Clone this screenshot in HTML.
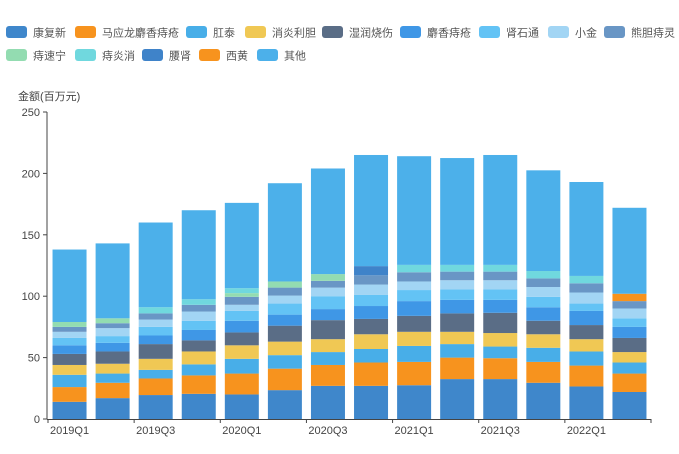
<!DOCTYPE html><html><head><meta charset="utf-8"><style>
body{margin:0;background:#fff;font-family:"Liberation Sans","Noto Sans CJK SC",sans-serif;}
svg text{font-family:"Liberation Sans","Noto Sans CJK SC",sans-serif;}
</style></head><body>
<svg id="c" width="679" height="449"></svg>
<script>
const categories=["2019Q1","2019Q2","2019Q3","2019Q4","2020Q1","2020Q2","2020Q3","2020Q4","2021Q1","2021Q2","2021Q3","2021Q4","2022Q1","2022Q2"];
const seriesNames=["康复新","马应龙麝香痔疮","肛泰","消炎利胆","湿润烧伤","麝香痔疮","肾石通","小金","熊胆痔灵","痔速宁","痔炎消","腰肾","西黄","其他"];
const colors=["#3f87cb","#f7931e","#48aee8","#f0c854","#5a6d86","#3f97e6","#63c3f5","#a2d5f4","#6996c5","#93dcb1","#70d8de","#3f83c9","#f7931e","#4cb0ea"];
const s0=[14,17,19.5,20.5,20,23.5,27,27,27.5,32.5,32.5,29.5,26.5,22];
const s1=[12,12.5,13.5,15,17,17.5,17,19,19,17.5,17,17,17,15];
const s2=[10,7.5,7,9,12,11,10.5,11,13,11,9.5,11.5,11.5,9];
const s3=[8,8,9,10.5,11,11,10.5,12,11.5,10,11,11,10,8.5];
const s4=[9,10,12,9,10.5,13,15.5,12.5,13,15,16.5,11,11.5,11.5];
const s5=[7,7,7,8.5,9.5,9,9,10.5,12,11,10.5,11,11.5,9];
const s6=[6,5.5,7,7.5,8,9,10.5,9,9,8.5,8.5,8.5,6,7];
const s7=[5,6.5,6,7.5,5,6.5,7,8.5,7,7.5,7.5,8,9,8];
const s8=[4,4,5,5.5,6.5,6.5,5.5,7.5,7.5,7,7,7,7.5,6];
const s9=[4,4,0,0,3,5,5.5,0,0,0,0,0,0,0];
const s10=[0,0,5,4.5,4,0,0,0,6,5.5,5.5,6,6,0];
const s11=[0,0,0,0,0,0,0,7.5,0,0,0,0,0,0];
const s12=[0,0,0,0,0,0,0,0,0,0,0,0,0,6];
const s13=[59,61,69,72.5,69.5,80,86,90.5,88.5,87,89.5,82,76.5,70];
const series=[s0,s1,s2,s3,s4,s5,s6,s7,s8,s9,s10,s11,s12,s13];
const yTicks=[0,50,100,150,200,250];
const NS="http://www.w3.org/2000/svg";
const svg=document.getElementById('c');
const X0=48,X1=651,Y0=419,Y1=112,YMAX=250;
const band=(X1-X0)/categories.length,bw=34;
const y=v=>Y0-v/YMAX*(Y0-Y1);
const xc=i=>X0+band*(i+0.5);
function mk(t,a){const e=document.createElementNS(NS,t);for(const k in a)e.setAttribute(k,a[k]);svg.appendChild(e);return e;}
// legend
const legX=[6,75,186,245,322,400,479,548,604,6,75,142,199,257];
seriesNames.forEach((n,i)=>{const row=i<9?0:1;const ly=row?49:26;
 const r=mk('rect',{x:legX[i],y:ly,width:21,height:12,rx:3,fill:colors[i]});
 
 
 const t=mk('text',{x:legX[i]+27,y:ly+10.5,'font-size':11,fill:'#555'});t.textContent=n;
 
 
});
const tt=mk('text',{x:18,y:100,'font-size':11,fill:'#444'});tt.textContent='金额(百万元)';


// bars
categories.forEach((c,i)=>{let cum=0;series.forEach((s,k)=>{const v=s[i];if(!v)return;
 const r=mk('rect',{x:xc(i)-bw/2,y:y(cum+v),width:bw,height:y(cum)-y(cum+v),fill:colors[k]});
 
 
 cum+=v;});});
// axes
const ya=mk('line',{x1:X0-1,y1:Y1,x2:X0-1,y2:Y0,stroke:'#444','stroke-width':1});


yTicks.forEach(v=>{mk('line',{x1:X0-5,x2:X0-1,y1:y(v),y2:y(v),stroke:'#444'});
 const t=mk('text',{x:X0-8,y:y(v)+4,'font-size':11,fill:'#444','text-anchor':'end'});t.textContent=v;
 
 });
const xa=mk('line',{x1:X0-1,y1:Y0+0.5,x2:X1,y2:Y0+0.5,stroke:'#444','stroke-width':1});


for(let i=0;i<=categories.length;i+=2){mk('line',{x1:X0+band*i,x2:X0+band*i,y1:Y0,y2:Y0+4,stroke:'#444'});}
categories.forEach((c,i)=>{if(i%2)return;const t=mk('text',{x:xc(i),y:Y0+15,'font-size':11,fill:'#444','text-anchor':'middle'});t.textContent=c;
 
 });
</script></body></html>
